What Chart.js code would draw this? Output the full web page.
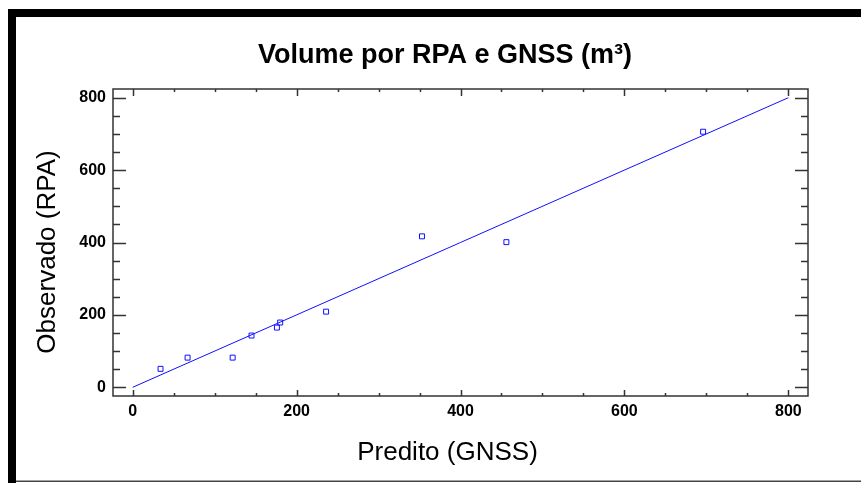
<!DOCTYPE html>
<html>
<head>
<meta charset="utf-8">
<script src="https://cdn.jsdelivr.net/npm/chart.js@4"></script>
<style>
  html, body { margin: 0; padding: 0; background: #fff; }
  #wrap { width: 861px; height: 483px; }
</style>
</head>
<body>
<div id="wrap"><canvas id="chart"></canvas></div>
<script>
// valores
const predito = [34, 67, 122, 145, 176, 180, 236, 353, 456, 696];
const observado = [51, 82, 82, 143, 165, 179, 209, 417, 401, 706];
// reta 1:1
const retaX = [0, 800];
const retaY = [0, 800];
const xTicks = [0, 200, 400, 600, 800];
const yTicks = [0, 200, 400, 600, 800];

const chartTitle = 'Volume por RPA e GNSS (m³)';
const xTitle = 'Predito (GNSS)';
const yTitle = 'Observado (RPA)';

const FONT = '"Liberation Sans", Arial, sans-serif';
const BLUE = '#1010ff';

const framePlugin = {
    id: 'frame',
    beforeDraw(chart) {
        const c = chart.ctx;
        c.save();
        c.fillStyle = '#fff';
        c.fillRect(0, 0, chart.width, chart.height);
        c.fillStyle = '#000';
        c.fillRect(8, 9, 8, chart.height - 9);   // barra esquerda
        c.fillRect(8, 9, chart.width - 8, 8);    // barra de cima
        c.fillStyle = '#444';
        c.fillRect(16, 480.5, chart.width - 16, 1.5);
        c.restore();
    },
    afterDraw(chart) {
        const c = chart.ctx;
        const a = chart.chartArea;
        const xs = chart.scales.x, ys = chart.scales.y;
        c.save();
        c.strokeStyle = '#333';
        c.lineWidth = 1.5;
        c.strokeRect(a.left, a.top, a.right - a.left, a.bottom - a.top);

        // marcas para dentro, menores a cada 50
        c.beginPath();
        for (let v = 0; v <= 800; v += 50) {
            const major = v % 200 === 0;
            const px = Math.round(xs.getPixelForValue(v)) + 0.5;
            c.moveTo(px, a.bottom); c.lineTo(px, a.bottom - (major ? 6 : 3));
            c.moveTo(px, a.top); c.lineTo(px, a.top + (major ? 7 : 3));
            const py = Math.round(ys.getPixelForValue(v)) + 0.5;
            c.moveTo(a.left, py); c.lineTo(a.left + (major ? 13 : 7), py);
            c.moveTo(a.right, py); c.lineTo(a.right - (major ? 13 : 7), py);
        }
        c.stroke();

        c.fillStyle = '#000';
        c.textAlign = 'center';
        c.textBaseline = 'alphabetic';
        c.font = 'bold 27px ' + FONT;
        c.fillText(chartTitle, 445, 63);
        c.font = '26px ' + FONT;
        c.fillText(xTitle, 447.5, 460);
        c.translate(55, 252);
        c.rotate(-Math.PI / 2);
        c.fillText(yTitle, 0, 0);
        c.restore();
    }
};

const tickFont = { family: FONT, size: 16, weight: 'bold' };

new Chart(document.getElementById('chart'), {
    type: 'scatter',
    data: {
        datasets: [
            {
                label: 'Observado',
                data: predito.map((x, i) => ({ x: x, y: observado[i] })),
                pointStyle: 'rect',
                pointRadius: 3.5,
                pointBorderWidth: 1,
                pointBorderColor: BLUE,
                pointBackgroundColor: 'rgba(0,0,0,0)'
            },
            {
                label: 'Reta',
                type: 'line',
                data: retaX.map((x, i) => ({ x: x, y: retaY[i] })),
                borderColor: BLUE,
                borderWidth: 1,
                pointRadius: 0,
                fill: false
            }
        ]
    },
    options: {
        responsive: true,
        maintainAspectRatio: false,
        animation: false,
        events: [],
        layout: { padding: { left: 0, top: 89, right: 53, bottom: 0 } },
        plugins: {
            legend: { display: false },
            title: { display: false },
            tooltip: { enabled: false }
        },
        scales: {
            x: {
                type: 'linear',
                min: -24,
                max: 824,
                border: { display: false },
                grid: { display: false, drawTicks: false },
                ticks: { font: tickFont, color: '#000', padding: 6, includeBounds: false },
                afterBuildTicks: s => { s.ticks = xTicks.map(v => ({ value: v })); },
                afterFit: s => { s.height = 87; }
            },
            y: {
                type: 'linear',
                min: -24,
                max: 824,
                border: { display: false },
                grid: { display: false, drawTicks: false },
                ticks: { font: tickFont, color: '#000', padding: 7, includeBounds: false },
                afterBuildTicks: s => { s.ticks = yTicks.map(v => ({ value: v })); },
                afterFit: s => { s.width = 113; }
            }
        }
    },
    plugins: [framePlugin]
});
</script>
</body>
</html>
